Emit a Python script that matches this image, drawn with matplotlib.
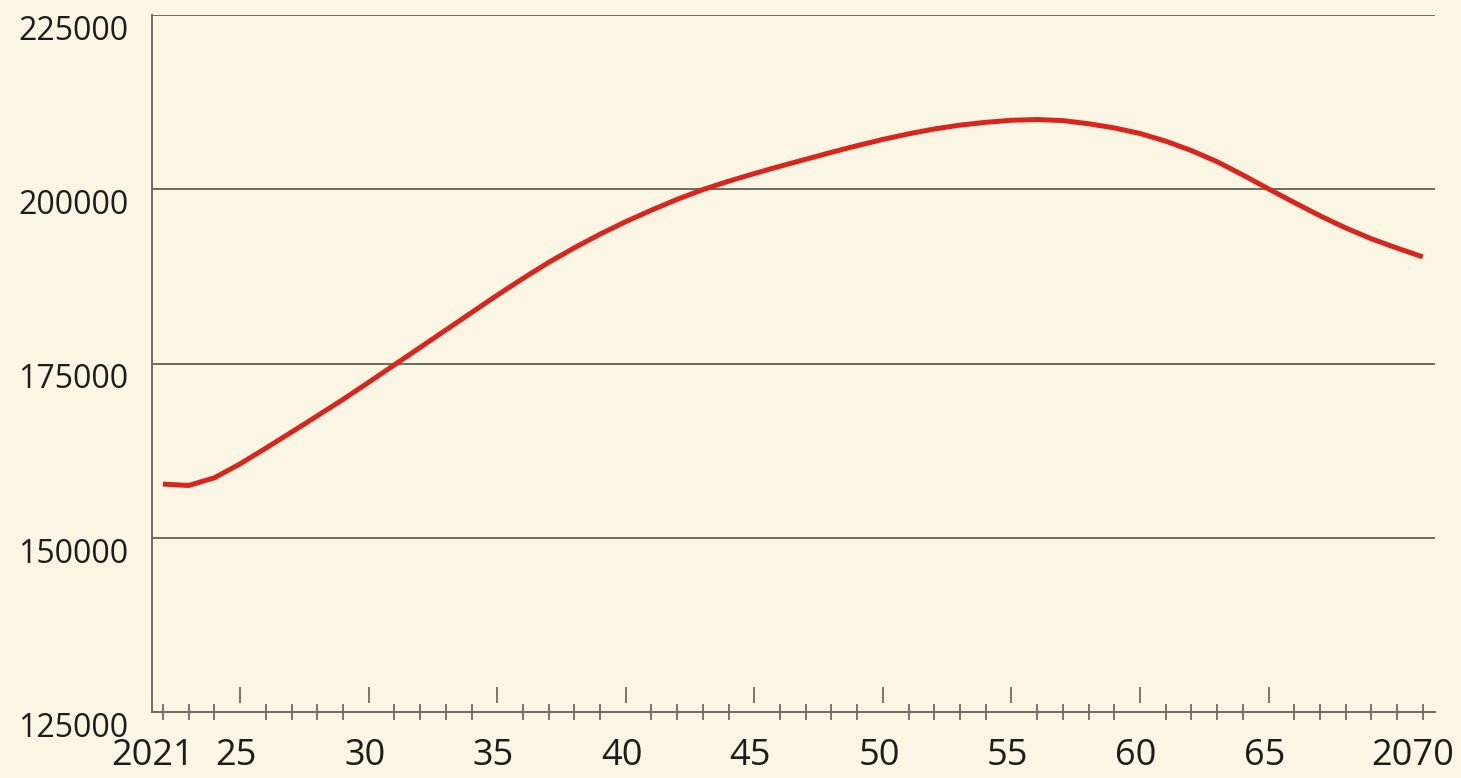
import numpy as np
import matplotlib
matplotlib.use('Agg')
import matplotlib.pyplot as plt

years = list(range(2021, 2071))
values = [157700, 157500, 158600, 160600, 162850, 165150, 167480, 169840, 172300, 174800,
          177300, 179800, 182300, 184800, 187200, 189500, 191600, 193550, 195350, 197000,
          198550, 199950, 201150, 202250, 203300, 204300, 205300, 206250, 207150, 207950,
          208650, 209200, 209600, 209900, 210000, 209850, 209400, 208800, 208000, 206900,
          205550, 203950, 202050, 200050, 198100, 196200, 194450, 192900, 191550, 190300]

y_ticks = [125000, 150000, 175000, 200000, 225000]
y_labels = ['125000', '150000', '175000', '200000', '225000']
major_years = [2024, 2029, 2034, 2039, 2044, 2049, 2054, 2059, 2064]
x_labels = ['2021', '25', '30', '35', '40', '45', '50', '55', '60', '65', '2070']

bg = '#fbf5e3'
ink = '#1e1b1b'
rule = '#6f6b60'
red = '#d8261c'

plt.rcParams['font.family'] = ['Open Sans', 'DejaVu Sans']

fig = plt.figure(figsize=(14.61, 7.78), dpi=100, facecolor=bg)
ax = fig.add_axes([152/1461, 66/778, 1283/1461, 697/778])
ax.set_facecolor(bg)

ax.set_xlim(2020.572, 2070.475)
ax.set_ylim(125000, 225000)

# horizontal rules
for yv in y_ticks[1:]:
    ax.axhline(yv, color=rule, lw=1.4, zorder=1)

ax.plot(years, values, color=red, lw=3.6, solid_capstyle='butt',
        solid_joinstyle='round', zorder=3)

for side in ['top', 'right']:
    ax.spines[side].set_visible(False)
for side in ['left', 'bottom']:
    ax.spines[side].set_color(rule)
    ax.spines[side].set_linewidth(1.4)

# y labels, top aligned with rule
ax.set_yticks(y_ticks)
ax.set_yticklabels(y_labels, fontsize=23, color=ink)
ax.tick_params(axis='y', length=0, pad=17)
for lbl in ax.get_yticklabels():
    lbl.set_verticalalignment('top')

# minor ticks every year (crossing), majors drawn detached above the axis
minor_years = [y for y in years if y not in major_years]
ax.set_xticks(minor_years, minor=True)
ax.tick_params(axis='x', which='minor', direction='inout', length=11, width=1.3, color=rule)
ax.vlines(major_years, 0.013, 0.036, transform=ax.get_xaxis_transform(),
          color=rule, lw=1.3, clip_on=False)

label_pos = [2020.6] + [y - 0.15 for y in major_years] + [2069.6]
ax.set_xticks(label_pos)
ax.set_xticklabels(x_labels, fontsize=26, color=ink)
ax.tick_params(axis='x', which='major', length=0, pad=19)

fig.savefig('out.png', dpi=100, facecolor=bg)
